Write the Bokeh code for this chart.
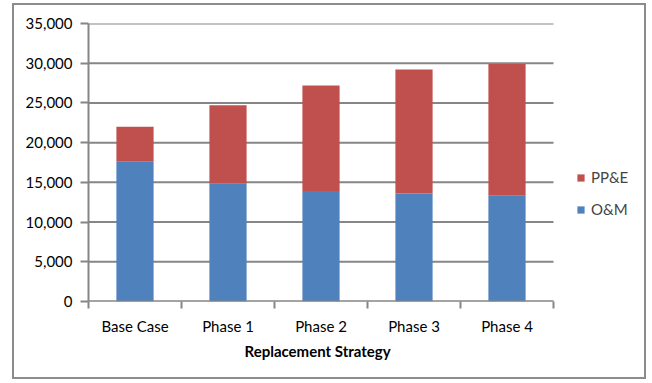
from bokeh.plotting import figure
from bokeh.models import (ColumnDataSource, FixedTicker, NumeralTickFormatter,
                          Legend, LegendItem, Range1d, Title)
from bokeh.embed import file_html
from bokeh.resources import INLINE

# Costs by replacement strategy
strategies = ["Base Case", "Phase 1", "Phase 2", "Phase 3", "Phase 4"]
om_cost = [17600, 14900, 13900, 13600, 13300]
ppe_cost = [4400, 9800, 13300, 15600, 16600]
y_ticks = [0, 5000, 10000, 15000, 20000, 25000, 30000, 35000]

FONT = "Lato"
GRID = "#868686"
BLUE = "#4F81BD"
RED = "#C0504D"

# Canvas layout: the frame runs to the right edge so the legend can sit
# beside the bars; the bars themselves occupy PLOT_W pixels of it.
CANVAS_W, CANVAS_H = 634, 376
LEFT, TOP, BOTTOM = 74, 18, 80
FRAME_W = CANVAS_W - LEFT
PLOT_W = 465
n = len(strategies)
x_end = n * FRAME_W / PLOT_W

xpos = [i + 0.5 for i in range(n)]
tops = [o + p for o, p in zip(om_cost, ppe_cost)]
src = ColumnDataSource(dict(x=xpos, om=om_cost, top=tops))

p = figure(width=CANVAS_W, height=CANVAS_H, output_backend="svg",
           toolbar_location=None,
           x_range=Range1d(0, x_end), y_range=Range1d(0, 35000),
           min_border_left=LEFT, min_border_right=0, min_border_top=TOP,
           min_border_bottom=BOTTOM)
# framed chart area
p.margin = (3, 0, 0, 12)
p.styles = {"border": "2px solid #8c8c8c"}
p.outline_line_color = None
p.background_fill_color = "white"
p.border_fill_color = "white"

# horizontal gridlines across the category span only
p.segment(x0=0, x1=n, y0=y_ticks, y1=y_ticks, line_color=GRID, line_width=2)

r_om = p.vbar(x="x", bottom=0, top="om", width=0.4, source=src,
              fill_color=BLUE, line_color=None)
r_ppe = p.vbar(x="x", bottom="om", top="top", width=0.4, source=src,
               fill_color=RED, line_color=None)

# category axis baseline
p.segment(x0=[0], x1=[n], y0=[0], y1=[0], line_color=GRID, line_width=2)

# Y axis
p.yaxis.ticker = FixedTicker(ticks=y_ticks)
p.yaxis.formatter = NumeralTickFormatter(format="0,0")
p.yaxis.axis_line_color = GRID
p.yaxis.axis_line_width = 2
p.yaxis.major_tick_line_color = GRID
p.yaxis.major_tick_line_width = 2
p.yaxis.major_tick_out = 8
p.yaxis.major_tick_in = 0
p.yaxis.minor_tick_line_color = None
p.yaxis.major_label_standoff = 8
p.yaxis.major_label_text_font = FONT
p.yaxis.major_label_text_font_size = "15px"
p.yaxis.major_label_text_color = "black"

# X axis: labels at bar centres, tick marks at category boundaries
p.xaxis.ticker = FixedTicker(ticks=xpos, minor_ticks=list(range(n + 1)))
p.xaxis.major_label_overrides = {x: s for x, s in zip(xpos, strategies)}
p.xaxis.major_tick_line_color = None
p.xaxis.major_tick_out = 0
p.xaxis.major_tick_in = 0
p.xaxis.minor_tick_line_color = GRID
p.xaxis.minor_tick_line_width = 2
p.xaxis.minor_tick_out = 7
p.xaxis.minor_tick_in = 0
p.xaxis.axis_line_color = None
p.xaxis.major_label_standoff = 8
p.xaxis.major_label_text_font = FONT
p.xaxis.major_label_text_font_size = "15px"
p.xaxis.major_label_text_color = "black"

p.xgrid.grid_line_color = None
p.ygrid.grid_line_color = None

p.add_layout(Title(text="Replacement Strategy", align="left", offset=156,
                   text_font=FONT, text_font_size="15px",
                   text_font_style="bold", text_color="black", standoff=5),
             "below")

legend = Legend(items=[LegendItem(label="PP&E", renderers=[r_ppe]),
                       LegendItem(label="O&M", renderers=[r_om])],
                location=(PLOT_W + 23, 83), orientation="vertical", margin=0,
                label_text_font=FONT, label_text_font_size="15px",
                glyph_width=9, glyph_height=9, spacing=14, padding=0,
                label_standoff=6, border_line_color=None,
                background_fill_alpha=0)
p.add_layout(legend, "center")

open("out.html", "w").write(file_html(p, INLINE))
